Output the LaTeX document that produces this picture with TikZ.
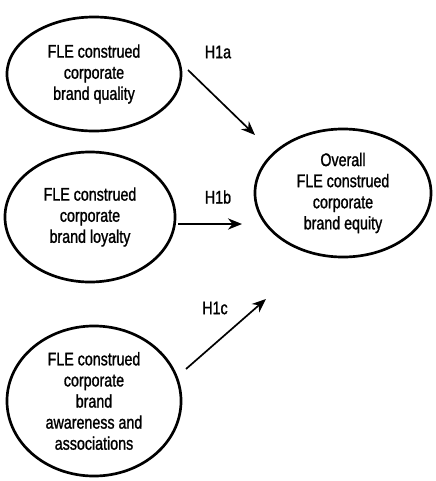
\documentclass[tikz,border=0pt]{standalone}
\usepackage{fontspec}
\setmainfont{Liberation Sans}[FakeStretch=0.78,FakeBold=1.2]
\usetikzlibrary{shapes.geometric,arrows.meta}
\tikzset{
    construct/.style={ellipse, draw, line width=1.9pt, inner sep=0pt, align=center,
        font=\fontsize{13}{15}\selectfont},
    path/.style={line width=1.2pt, -{Stealth[length=10pt,width=8pt]}},
    hyp/.style={font=\fontsize{13}{15}\selectfont}
}
\begin{document}
\begin{tikzpicture}[x=0.025cm, y=-0.025cm]
        \useasboundingbox (0,0) rectangle (435,481);
        \node [construct, minimum width=4.35cm, minimum height=2.85cm] (quality) at (94,74)
            {FLE construed\\corporate\\brand quality};
        \node [construct, minimum width=4.25cm, minimum height=3.25cm] (loyalty) at (90,217)
            {FLE construed\\corporate\\brand loyalty};
        \node [construct, minimum width=4.35cm, minimum height=3.75cm] (awareness) at (94,401)
            {FLE construed\\corporate\\brand\\awareness and\\associations};
        \node [construct, minimum width=4.4cm, minimum height=3.2cm] (equity) at (343,193)
            {Overall\\FLE construed\\corporate\\brand equity};

        \coordinate (H1a s) at (188,70);
        \coordinate (H1a e) at (255,135);
        \coordinate (H1b s) at (178,224);
        \coordinate (H1b e) at (242,224);
        \coordinate (H1c s) at (186,369);
        \coordinate (H1c e) at (266,299);
        \draw [path] (H1a s) -- (H1a e);
        \draw [path] (H1b s) -- (H1b e);
        \draw [path] (H1c s) -- (H1c e);

        \node [hyp] (H1a) at (218,52) {H1a};
        \node [hyp] (H1b) at (218,197) {H1b};
        \node [hyp] (H1c) at (215,308) {H1c};
    \end{tikzpicture}
\end{document}
